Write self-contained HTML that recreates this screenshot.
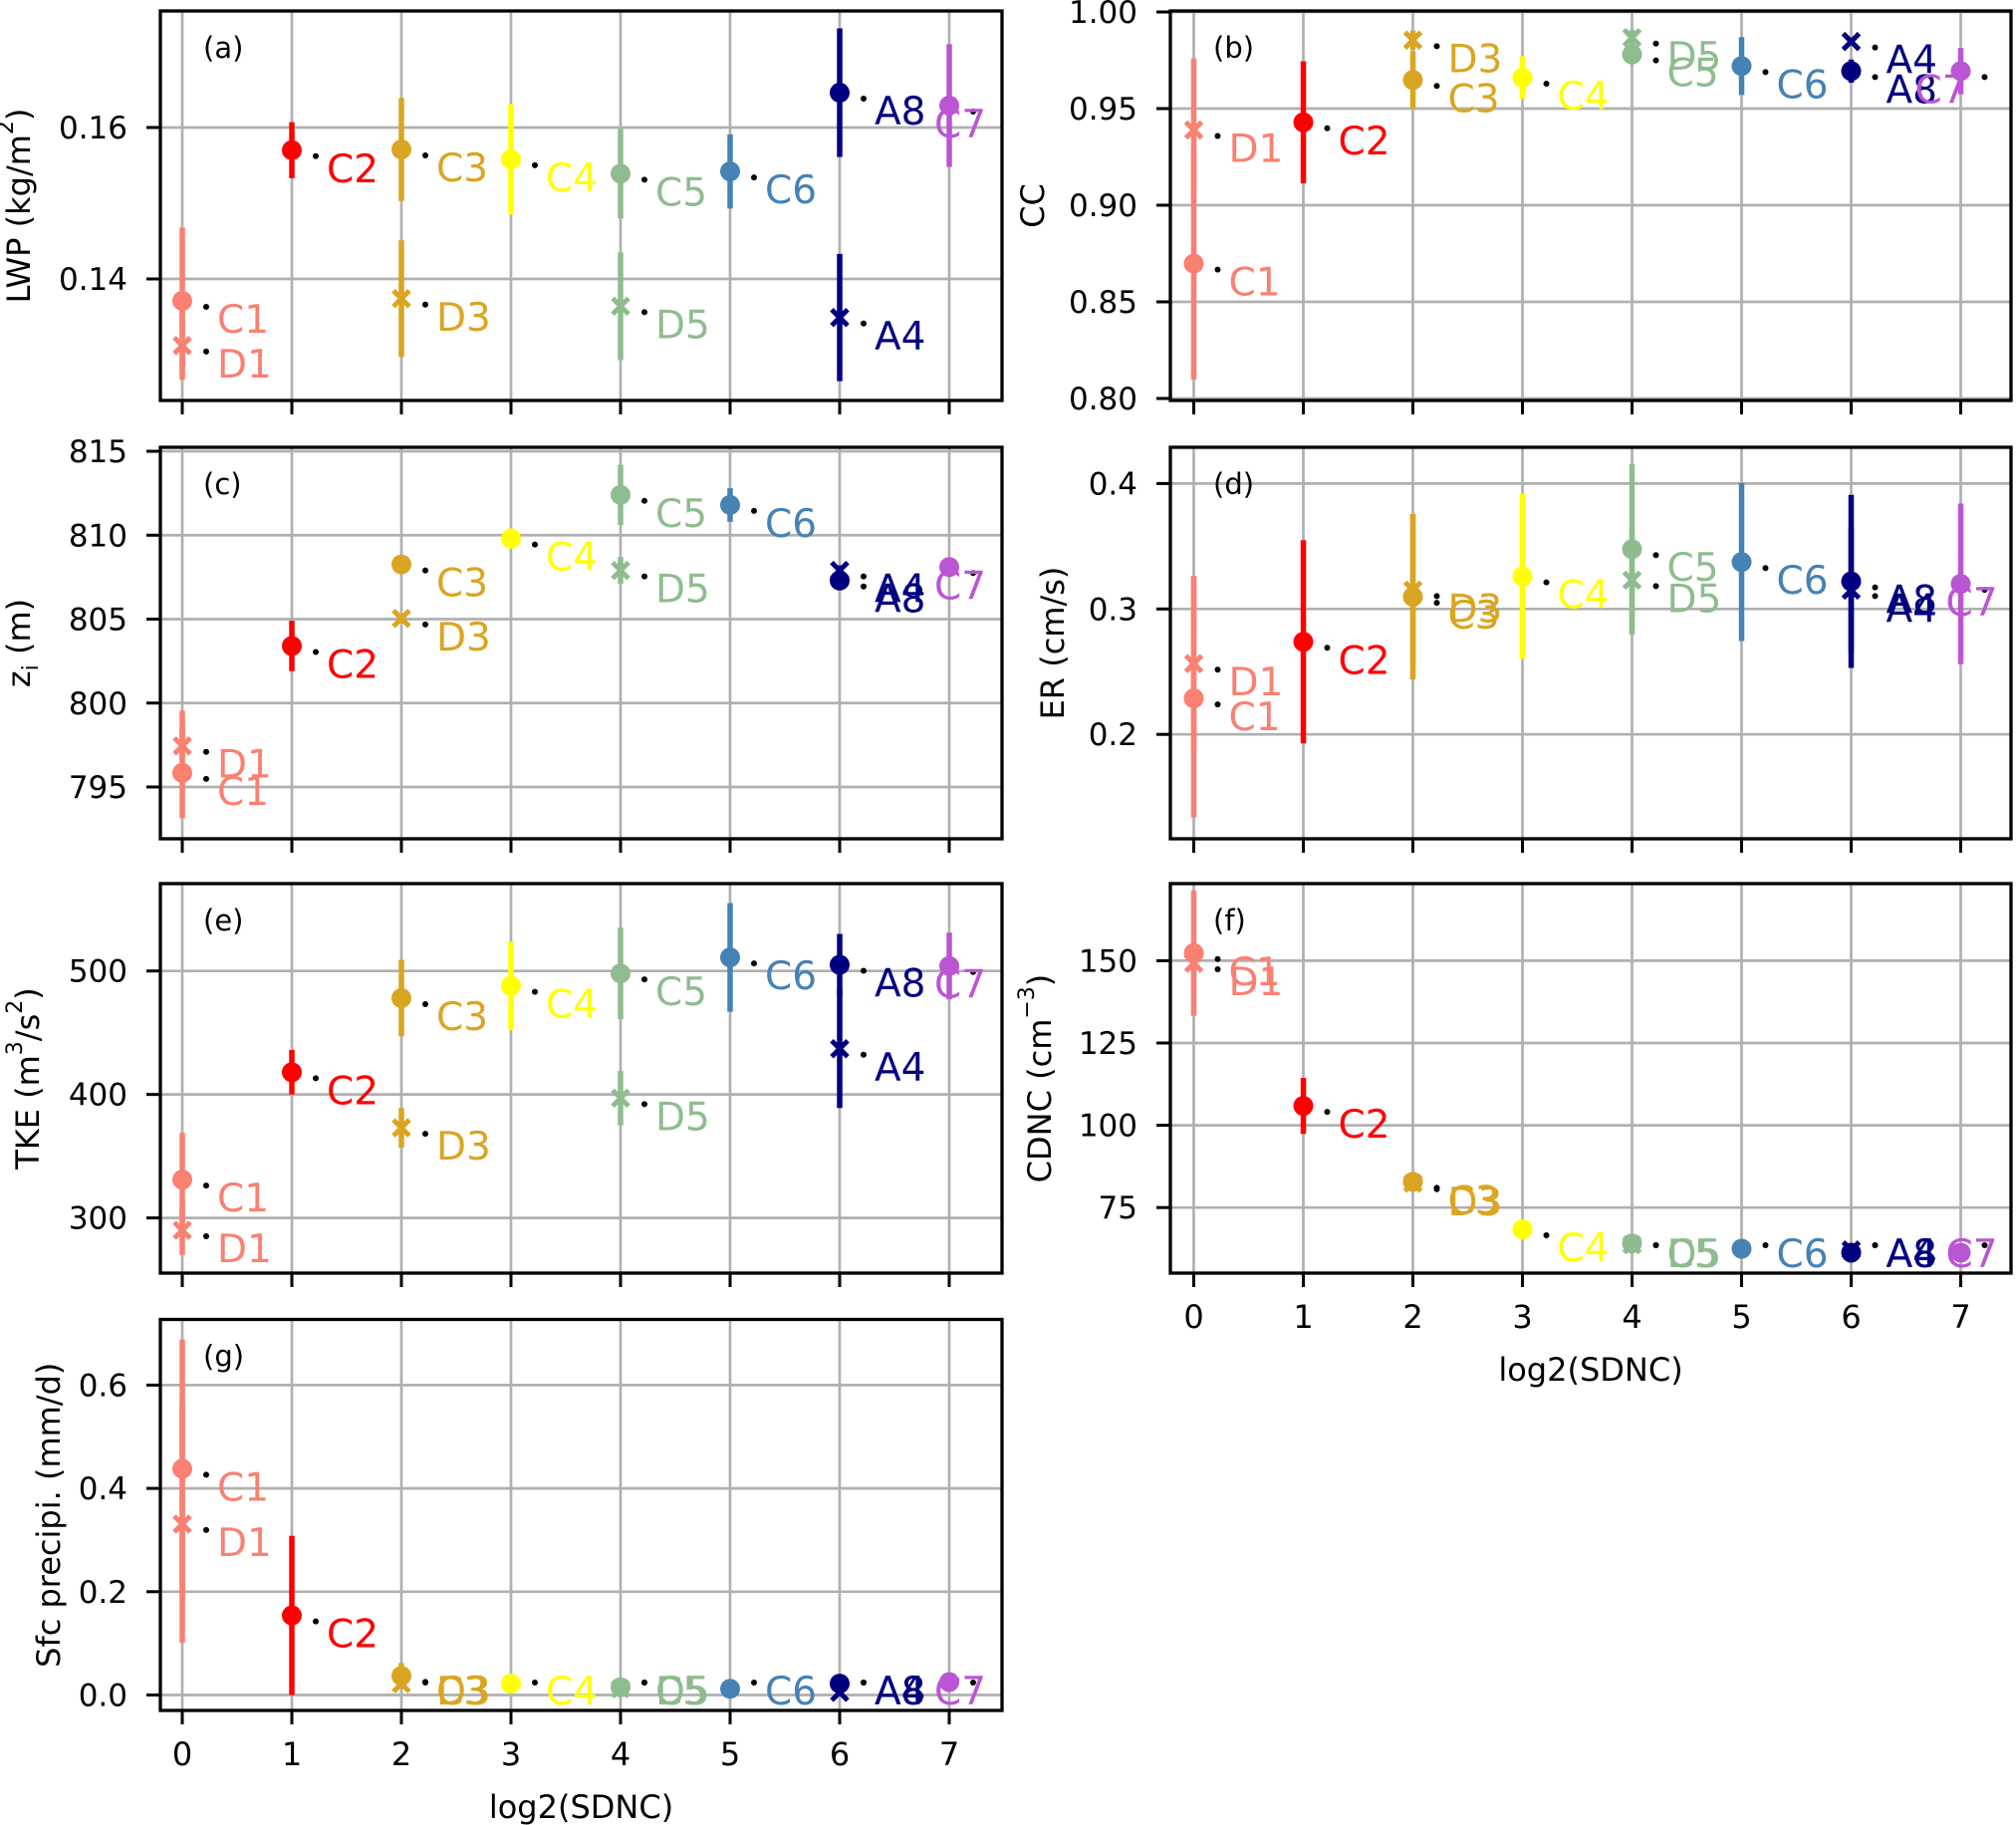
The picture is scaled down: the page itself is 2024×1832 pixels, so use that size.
<!DOCTYPE html>
<html><head><meta charset="utf-8"><style>
html,body{margin:0;padding:0;background:#fff}
svg{display:block;font-family:"DejaVu Sans","Liberation Sans",sans-serif}
</style></head><body>
<svg id="fig" width="2024" height="1832" viewBox="0 0 2024 1832" xmlns="http://www.w3.org/2000/svg"></svg>
<script>
const names = ["C1","D1","C2","C3","D3","C4","C5","D5","C6","A8","A4","C7"];
const xs = [0,0,1,2,2,3,4,4,5,6,6,7];
const markers = ["o","x","o","o","x","o","o","x","o","o","x","o"];
const colors = ["#fa8072","#fa8072","#ff0000","#daa520","#daa520","#ffff00","#8fbc8f","#8fbc8f","#4682b4","#000080","#000080","#ba55d3"];
const xTicks = [0,1,2,3,4,5,6,7];

const lwp = [0.1371,0.1312,0.1570,0.1571,0.1374,0.1558,0.1539,0.1364,0.1542,0.1646,0.1349,0.1629];
const lwpErr = [0.0097,0.0045,0.0037,0.0068,0.0077,0.0073,0.0059,0.0071,0.0049,0.0085,0.0084,0.0081];
const cc = [0.8698,0.9389,0.9429,0.9648,0.9854,0.966,0.978,0.9867,0.972,0.9694,0.9847,0.9694];
const ccErr = [0.060,0.037,0.0316,0.015,0.005,0.011,0.005,0.004,0.015,0.006,0.002,0.012];
const zi = [795.84,797.45,803.4,808.26,805.04,809.8,812.4,807.9,811.8,807.3,807.9,808.1];
const ziErr = [2.7,2.1,1.5,0.3,0.3,0.6,1.8,0.8,1.0,0.5,0.3,0.2];
const er = [0.2287,0.2564,0.2738,0.3097,0.315,0.326,0.3477,0.323,0.3374,0.322,0.315,0.32];
const erErr = [0.095,0.07,0.081,0.066,0.06,0.066,0.068,0.042,0.063,0.069,0.05,0.064];
const tke = [331,290,418,478,373,488,498,397,511,505,437,504];
const tkeErr = [38,20,18,31,16,36,37,22,44,25,48,27];
const cdnc = [152.3,149.2,105.9,82.8,82.4,68.4,64.1,63.7,62.5,61.3,62.1,61.3];
const cdncErr = [19,5,8.5,1,1,1,1,1,1,1,1,1];
const precip = [0.438,0.331,0.154,0.037,0.022,0.022,0.015,0.012,0.012,0.022,0.005,0.025];
const precipErr = [0.25,0.23,0.154,0.025,0.01,0.005,0.005,0.003,0.003,0.005,0.003,0.01];

const lwpTicks = [0.14,0.16], lwpTickLabels = ["0.14","0.16"];
const ccTicks = [0.80,0.85,0.90,0.95,1.00], ccTickLabels = ["0.80","0.85","0.90","0.95","1.00"];
const ziTicks = [795,800,805,810,815], ziTickLabels = ["795","800","805","810","815"];
const erTicks = [0.2,0.3,0.4], erTickLabels = ["0.2","0.3","0.4"];
const tkeTicks = [300,400,500], tkeTickLabels = ["300","400","500"];
const cdncTicks = [75,100,125,150], cdncTickLabels = ["75","100","125","150"];
const precipTicks = [0.0,0.2,0.4,0.6], precipTickLabels = ["0.0","0.2","0.4","0.6"];

const NS = "http://www.w3.org/2000/svg";
const svg = document.getElementById("fig");
function mk(tag, attrs, parent){
  const e = document.createElementNS(NS, tag);
  for (const k in attrs) e.setAttribute(k, attrs[k]);
  (parent||svg).appendChild(e);
  return e;
}

const panels = [
 {id:"a",L:161,R:1006,T:11,B:402,x0:183,v1:0.14,p1:280,v2:0.16,p2:128,vals:lwp,errs:lwpErr,ticks:lwpTicks,tl:lwpTickLabels,ylab:'LWP (kg/m<tspan baseline-shift="super" font-size="22">2</tspan>)',ylx:19,xl:false,c7:-15},
 {id:"b",L:1175,R:2019,T:11,B:402,x0:1198.5,v1:0.80,p1:400,v2:1.00,p2:12,vals:cc,errs:ccErr,ticks:ccTicks,tl:ccTickLabels,ylab:'CC',ylx:1037,xl:false,c7:-46},
 {id:"c",L:161,R:1006,T:449,B:842,x0:183,v1:795,p1:790,v2:815,p2:453,vals:zi,errs:ziErr,ticks:ziTicks,tl:ziTickLabels,ylab:'z<tspan baseline-shift="sub" font-size="22">i</tspan> (m)',ylx:19,xl:false,c7:-15},
 {id:"d",L:1175,R:2019,T:449,B:842,x0:1198.5,v1:0.2,p1:737.2,v2:0.4,p2:485.4,vals:er,errs:erErr,ticks:erTicks,tl:erTickLabels,ylab:'ER (cm/s)',ylx:1057,xl:false,c7:-15},
 {id:"e",L:161,R:1006,T:887,B:1278,x0:183,v1:300,p1:1222.6,v2:500,p2:974.7,vals:tke,errs:tkeErr,ticks:tkeTicks,tl:tkeTickLabels,ylab:'TKE (m<tspan baseline-shift="super" font-size="22">3</tspan>/s<tspan baseline-shift="super" font-size="22">2</tspan>)',ylx:28,xl:false,c7:-15},
 {id:"f",L:1175,R:2019,T:887,B:1278,x0:1198.5,v1:75,p1:1212.2,v2:150,p2:964.4,vals:cdnc,errs:cdncErr,ticks:cdncTicks,tl:cdncTickLabels,ylab:'CDNC (cm<tspan baseline-shift="super" font-size="22">−3</tspan>)',ylx:1044,xl:true,c7:-15},
 {id:"g",L:161,R:1006,T:1324.5,B:1717,x0:183,v1:0.0,p1:1701.5,v2:0.6,p2:1390.4,vals:precip,errs:precipErr,ticks:precipTicks,tl:precipTickLabels,ylab:'Sfc precipi. (mm/d)',ylx:49,xl:true,c7:-15}
];

panels.forEach(p=>{
  const g = mk("g",{});
  
  
  const X = v => p.x0 + v*110;
  const Y = v => p.p1 + (v - p.v1)*(p.p2 - p.p1)/(p.v2 - p.v1);
  const clipId = "clip"+p.id;
  const cp = mk("clipPath",{id:clipId},g);
  mk("rect",{x:p.L,y:p.T,width:p.R-p.L,height:p.B-p.T},cp);
  xTicks.forEach(t=>{
    const l = mk("line",{x1:X(t),x2:X(t),y1:p.T,y2:p.B,stroke:"#b0b0b0","stroke-width":2.7},g);
    
    
    const tk = mk("line",{x1:X(t),x2:X(t),y1:p.B,y2:p.B+14,stroke:"#000","stroke-width":3},g);
    
    
    if (p.xl){
      const tx = mk("text",{x:X(t),y:p.B+55,"font-size":32,"text-anchor":"middle",fill:"#000"},g);
      tx.textContent = String(t);
      
      
    }
  });
  p.ticks.forEach((t,i)=>{
    const y = Y(t);
    const l = mk("line",{x1:p.L,x2:p.R,y1:y,y2:y,stroke:"#b0b0b0","stroke-width":2.7},g);
    
    
    const tk = mk("line",{x1:p.L-14,x2:p.L,y1:y,y2:y,stroke:"#000","stroke-width":3},g);
    
    
    const tx = mk("text",{x:p.L-33,y:y+11,"font-size":31,"text-anchor":"end",fill:"#000"},g);
    tx.textContent = p.tl[i];
    
    
  });
  const dg = mk("g",{"clip-path":"url(#"+clipId+")"},g);
  
  
  names.forEach((n,i)=>{
    const cx = X(xs[i]), cy = Y(p.vals[i]);
    const col = colors[i];
    const eb = mk("line",{x1:cx,x2:cx,y1:Y(p.vals[i]+p.errs[i]),y2:Y(p.vals[i]-p.errs[i]),stroke:col,"stroke-width":5.5},dg);
    
    
    if (markers[i]==="o"){
      const c = mk("circle",{cx:cx,cy:cy,r:10,fill:col},dg);
      
      
    } else {
      const m = mk("path",{d:`M${cx-8},${cy-8}L${cx+8},${cy+8}M${cx-8},${cy+8}L${cx+8},${cy-8}`,stroke:col,"stroke-width":5},dg);
      
      
    }
  });
  names.forEach((n,i)=>{
    const cx = X(xs[i]), cy = Y(p.vals[i]);
    const base = Math.min(cy+32, p.B-6);
    const dy = base - 26;
    const d = mk("circle",{cx:cx+24,cy:Math.min(cy+6, dy+4),r:3,fill:"#000"},g);
    
    
    const dx = (n==="C7") ? p.c7 : 35;
    const t = mk("text",{x:cx+dx,y:base,"font-size":39,fill:colors[i]},g);
    t.textContent = n;
    
    
  });
  const sp = mk("rect",{x:p.L,y:p.T,width:p.R-p.L,height:p.B-p.T,fill:"none",stroke:"#000","stroke-width":3.3},g);
  
  
  const pl = mk("text",{x:p.L+43,y:p.T+47,"font-size":29,fill:"#000"},g);
  pl.textContent = "("+p.id+")";
  
  
  const yc = (p.T+p.B)/2;
  const yl = mk("text",{x:p.ylx,y:yc,"font-size":32,"text-anchor":"middle","dominant-baseline":"central",fill:"#000",transform:`rotate(-90 ${p.ylx} ${yc})`},g);
  yl.innerHTML = p.ylab;
  
  
  if (p.xl){
    const xt = mk("text",{x:(p.L+p.R)/2,y:p.B+108,"font-size":32,"text-anchor":"middle",fill:"#000"},g);
    xt.textContent = "log2(SDNC)";
    
    
  }
});
</script>
</body></html>
